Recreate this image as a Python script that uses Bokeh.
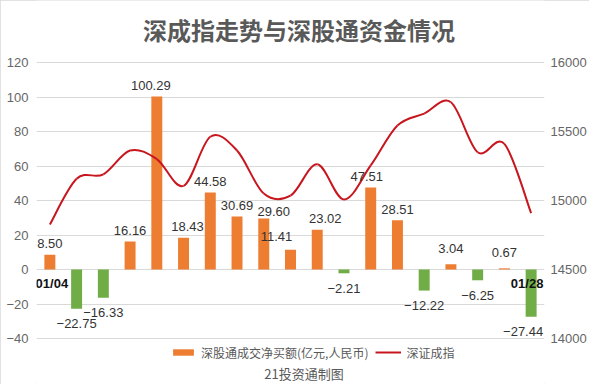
from bokeh.plotting import figure
from bokeh.models import Range1d, LinearAxis, FixedTicker, Legend, LegendItem, ColumnDataSource, Label
from bokeh.core.properties import value
from bokeh.embed import file_html
from bokeh.resources import INLINE

# ---------------- data ----------------
dates = ["01/04", "01/05", "01/06", "01/07", "01/08", "01/11", "01/12", "01/13", "01/14", "01/15",
         "01/18", "01/19", "01/20", "01/21", "01/22", "01/25", "01/26", "01/27", "01/28"]
net_buy = [8.50, -22.75, -16.33, 16.16, 100.29, 18.43, 44.58, 30.69, 29.60, 11.41,
           23.02, -2.21, 47.51, 28.51, -12.22, 3.04, -6.25, 0.67, -27.44]
szci = [14826, 15157, 15190, 15362, 15300, 15106, 15462, 15362, 15050, 15035,
        15262, 15007, 15254, 15543, 15630, 15712, 15350, 15410, 14908]
left_ticks = [-40, -20, 0, 20, 40, 60, 80, 100, 120]
right_ticks = [14000, 14500, 15000, 15500, 16000]
title_text = "深成指走势与深股通资金情况"
bar_legend = "深股通成交净买额(亿元,人民币)"
line_legend = "深证成指"
footer_text = "21投资通制图"

# ---------------- layout / style ----------------
W, H = 589, 384
FRAME_L, FRAME_R = 36, 547          # plot-area left / right (px)
PLOT_TOP, PLOT_BOT = 62, 338        # pixel rows of the top / bottom ticks
ORANGE = "#ED7D31"
GREEN = "#70AD47"
RED = "#C8161E"
GRID = "#D9D9D9"
TICK = "#666666"
NUM_FONT = "Liberation Sans"
CJK_FONT = "Noto Sans CJK SC"

def fmt(v):
    s = "%.2f" % abs(v)
    return ("\u2212" + s) if v < 0 else s

n = len(dates)
xs = list(range(n))

# the frame covers the whole figure height; ticks occupy PLOT_TOP..PLOT_BOT
lo, hi = left_ticks[0], left_ticks[-1]
upp = (hi - lo) / (PLOT_BOT - PLOT_TOP)
y_top = hi + PLOT_TOP * upp
y_bot = lo - (H - PLOT_BOT) * upp
rlo, rhi = right_ticks[0], right_ticks[-1]
rupp = (rhi - rlo) / (PLOT_BOT - PLOT_TOP)
ry_top = rhi + PLOT_TOP * rupp
ry_bot = rlo - (H - PLOT_BOT) * rupp

def px_to_y(py):
    return hi - (py - PLOT_TOP) * upp

def px_to_x(px):
    return (px - FRAME_L) / ((FRAME_R - FRAME_L) / n) - 0.5

p = figure(width=W, height=H, output_backend="svg", toolbar_location=None,
           x_range=Range1d(-0.5, n - 0.5), y_range=Range1d(y_bot, y_top),
           x_axis_location=None,
           min_border_left=FRAME_L, min_border_right=W - FRAME_R, min_border_top=0, min_border_bottom=0,
           styles={"outline": "1px solid #D9D9D9", "outline-offset": "-1px"})
p.outline_line_color = None
p.xgrid.visible = False
p.ygrid.grid_line_color = GRID
p.ygrid.ticker = FixedTicker(ticks=left_ticks)

p.extra_y_ranges = {"idx": Range1d(ry_bot, ry_top)}

def style_axis(a, standoff):
    a.axis_line_color = None
    a.major_tick_line_color = None
    a.minor_tick_line_color = None
    a.major_tick_out = 0
    a.major_tick_in = 0
    a.minor_tick_out = 0
    a.minor_tick_in = 0
    a.major_label_text_font = NUM_FONT
    a.major_label_text_font_size = "13px"
    a.major_label_text_color = TICK
    a.major_label_standoff = standoff

ax = p.yaxis[0]
ax.ticker = FixedTicker(ticks=left_ticks)
ax.major_label_overrides = {t: (("\u2212" + str(abs(t))) if t < 0 else str(t)) for t in left_ticks}
style_axis(ax, 8)

rax = LinearAxis(y_range_name="idx", ticker=FixedTicker(ticks=right_ticks))
style_axis(rax, 6)
p.add_layout(rax, "right")

# bars
colors = [ORANGE if v >= 0 else GREEN for v in net_buy]
src = ColumnDataSource(dict(x=xs, top=net_buy, color=colors))
bars = p.vbar(x="x", top="top", bottom=0, width=0.41, fill_color="color", line_color=None, source=src)

# smooth line (cubic bezier segments through the points)
t = 1.0 / 6.0
x0, y0, x1, y1, cx0, cy0, cx1, cy1 = [], [], [], [], [], [], [], []
for i in range(n - 1):
    xp = xs[i - 1] if i > 0 else xs[i]
    yp = szci[i - 1] if i > 0 else szci[i]
    xn = xs[i + 2] if i + 2 < n else xs[i + 1]
    yn = szci[i + 2] if i + 2 < n else szci[i + 1]
    x0.append(xs[i]); y0.append(szci[i])
    x1.append(xs[i + 1]); y1.append(szci[i + 1])
    cx0.append(xs[i] + (xs[i + 1] - xp) * t); cy0.append(szci[i] + (szci[i + 1] - yp) * t)
    cx1.append(xs[i + 1] - (xn - xs[i]) * t); cy1.append(szci[i + 1] - (yn - szci[i]) * t)
p.bezier(x0=x0, y0=y0, x1=x1, y1=y1, cx0=cx0, cy0=cy0, cx1=cx1, cy1=cy1,
         line_color=RED, line_width=2, y_range_name="idx")
legend_line = p.line(x=[xs[0], xs[0]], y=[szci[0], szci[0]], line_color=RED, line_width=2,
                     y_range_name="idx")

# bar value labels
dx = [0] * n
dy = [0] * n
dx[4] = -6; dx[5] = 4; dx[8] = 10; dx[9] = -14; dx[10] = 8; dx[12] = -4; dx[18] = -8
dy[9] = -2; dy[15] = -5; dy[17] = -5; dy[8] = 4
lab_t, lab_xo, lab_yo = [], [], []
for i, v in enumerate(net_buy):
    lab_t.append(fmt(v))
    lab_xo.append(dx[i])
    lab_yo.append((-11 if v >= 0 else 15) + dy[i])
lsrc = ColumnDataSource(dict(x=xs, y=net_buy, t=lab_t, xo=lab_xo, yo=lab_yo))
p.text(x="x", y="y", text="t", x_offset="xo", y_offset="yo", source=lsrc,
       text_align="center", text_baseline="middle",
       text_font=value(NUM_FONT), text_font_size="13px", text_color="#333333")

# first / last date labels on the zero line
p.text(x=[xs[0], xs[-1]], y=[0, 0], text=[dates[0], dates[-1]], x_offset=[2, -4], y_offset=[14, 14],
       text_align="center", text_baseline="middle",
       text_font=value(NUM_FONT), text_font_size="13px", text_font_style="bold", text_color="#111111")

# title and footer
p.add_layout(Label(x=px_to_x(300), y=px_to_y(29), text=title_text, text_align="center", text_baseline="middle",
                   text_font=CJK_FONT, text_font_size="24px", text_font_style="bold", text_color="#595959"))
p.add_layout(Label(x=px_to_x(305), y=px_to_y(373), text=footer_text, text_align="center", text_baseline="middle",
                   text_font=CJK_FONT, text_font_size="13px", text_color="#595959"))

# legend
leg = Legend(items=[LegendItem(label=bar_legend, renderers=[bars]),
                    LegendItem(label=line_legend, renderers=[legend_line])],
             orientation="horizontal", location=(170 - FRAME_L, H - 362),
             glyph_width=26, glyph_height=8, label_standoff=5, spacing=7,
             padding=0, margin=0, border_line_alpha=0, background_fill_alpha=0,
             label_text_font=CJK_FONT, label_text_font_size="12px", label_text_color="#595959",
             label_height=20)
p.add_layout(leg, "center")

open("out.html", "w").write(file_html(p, INLINE))
